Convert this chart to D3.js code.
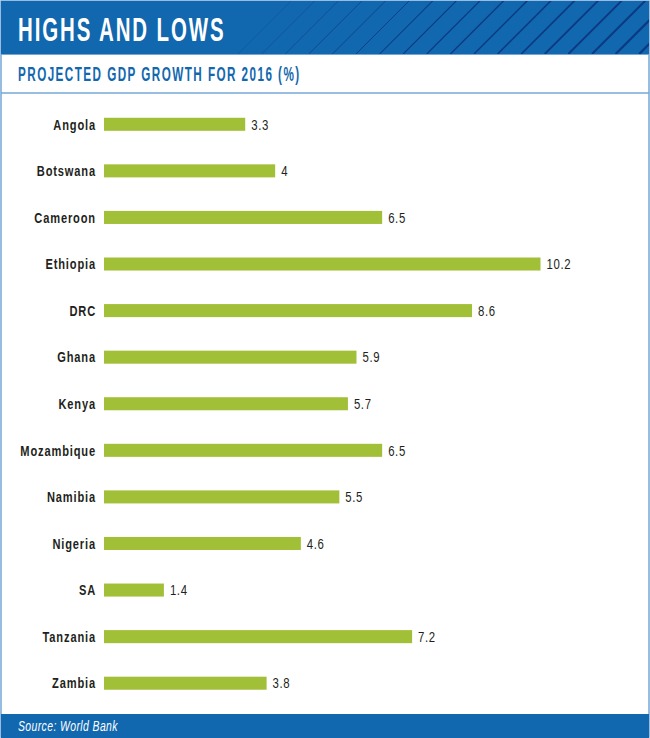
<!DOCTYPE html>
<html lang="en">

<head>
    <meta charset="UTF-8">
    <title>Highs and lows</title>
    <style>
        body,
        html {
            margin: 0;
            padding: 0;
            background: #fff;
        }

        svg {
            display: block;
        }

        text {
            font-family: "Liberation Sans", sans-serif;
        }

        .label {
            font-size: 15px;
            font-weight: bold;
            fill: #231f20;
            letter-spacing: 1.15px;
        }

        .value {
            font-size: 15px;
            fill: #231f20;
            letter-spacing: 0.8px;
        }
    </style>
</head>

<body>
    <svg width="650" height="738"></svg>

    <script src="https://d3js.org/d3.v7.min.js"></script>
    <script>
        const countries = ["Angola", "Botswana", "Cameroon", "Ethiopia", "DRC", "Ghana", "Kenya",
            "Mozambique", "Namibia", "Nigeria", "SA", "Tanzania", "Zambia"];
        const growth = [3.3, 4, 6.5, 10.2, 8.6, 5.9, 5.7, 6.5, 5.5, 4.6, 1.4, 7.2, 3.8];

        const blue = "#1268ae", rule = "#75a7d6", green = "#a2c037";
        const svg = d3.select("svg");

        // no condensed face is installed, so squeeze the text horizontally
        const squeeze = (x, y, sx) => `translate(${x},${y}) scale(${sx},1)`;

        // frame and header
        svg.append("rect").attr("x", 1).attr("y", 1).attr("width", 648).attr("height", 736)
            .attr("fill", "#fff").attr("stroke", rule).attr("stroke-width", 1.5);
        svg.append("rect").attr("x", 1).attr("y", 1).attr("width", 648).attr("height", 53).attr("fill", blue);

        // hatching in the header, gets heavier to the right
        const defs = svg.append("defs");
        defs.append("clipPath").attr("id", "head").append("rect")
            .attr("x", 1).attr("y", 1).attr("width", 648).attr("height", 53);
        const hatch = svg.append("g").attr("clip-path", "url(#head)");
        d3.range(238, 650, 23.6).forEach((x0, i, all) => {
            hatch.append("line")
                .attr("x1", x0).attr("y1", 54)
                .attr("x2", x0 + 54).attr("y2", 0)
                .attr("stroke", "#0b3a84")
                .attr("stroke-width", 0.3 + 2 * i / (all.length - 1));
        });
        svg.append("line").attr("x1", 1).attr("x2", 649).attr("y1", 54.5).attr("y2", 54.5)
            .attr("stroke", rule).attr("stroke-width", 1);

        svg.append("text").attr("transform", squeeze(18, 40.5, 0.62))
            .attr("font-size", 33).attr("font-weight", "bold").attr("fill", "#fff")
            .attr("letter-spacing", 3.05)
            .text("HIGHS AND LOWS");

        svg.append("text").attr("transform", squeeze(18, 81, 0.6))
            .attr("font-size", 19.5).attr("font-weight", "bold").attr("fill", blue)
            .attr("letter-spacing", 2.4)
            .text("PROJECTED GDP GROWTH FOR 2016 (%)");

        svg.append("line").attr("x1", 1).attr("x2", 649).attr("y1", 93).attr("y2", 93)
            .attr("stroke", rule).attr("stroke-width", 1.5);

        // footer
        svg.append("rect").attr("x", 1).attr("y", 714).attr("width", 648).attr("height", 24).attr("fill", blue);
        svg.append("text").attr("transform", squeeze(18, 731, 0.72))
            .attr("font-size", 14.5).attr("font-style", "italic").attr("fill", "#fff")
            .attr("letter-spacing", 0.55)
            .text("Source: World Bank");

        // scales
        const x = d3.scaleLinear().domain([0, 10.2]).range([104, 540.5]);
        const y = d3.scaleBand().domain(countries).range([101, 706.5]).paddingInner(0.72).paddingOuter(0.36);

        const rows = svg.selectAll(".row")
            .data(countries)
            .enter().append("g")
            .attr("class", "row");

        rows.append("rect")
            .attr("x", x(0))
            .attr("y", d => y(d))
            .attr("width", (d, i) => x(growth[i]) - x(0))
            .attr("height", y.bandwidth())
            .attr("fill", green);

        rows.append("text")
            .attr("class", "label")
            .attr("transform", d => squeeze(x(0) - 8, y(d) + y.bandwidth() / 2, 0.74))
            .attr("dy", ".35em")
            .attr("text-anchor", "end")
            .text(d => d);

        rows.append("text")
            .attr("class", "value")
            .attr("transform", (d, i) => squeeze(x(growth[i]) + 6, y(d) + y.bandwidth() / 2, 0.76))
            .attr("dy", ".35em")
            .text((d, i) => growth[i]);
    </script>
</body>

</html>
